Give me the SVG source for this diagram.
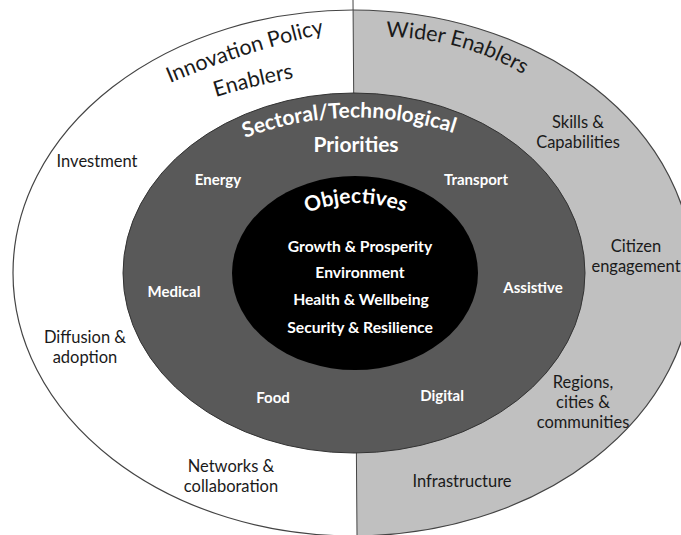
<svg xmlns="http://www.w3.org/2000/svg" xmlns:xlink="http://www.w3.org/1999/xlink" width="681" height="535" viewBox="0 0 681 535">
  <defs>
    <style>
      .lbl { font-family: Lato, "Open Sans", "Liberation Sans", sans-serif; }
      .dark { fill: #1a1a1a; font-size: 16.5px; text-anchor: middle; }
      .light { fill: #ffffff; font-size: 15px; font-weight: bold; text-anchor: middle; }
      .ring-title { fill: #1a1a1a; font-size: 21.5px; }
      .head { fill: #ffffff; font-size: 21px; font-weight: bold; }
      .obj { fill: #ffffff; font-size: 15.7px; font-weight: bold; text-anchor: middle; }
    </style>
    <!-- right half of the outer ring -->
    <clipPath id="rightHalf">
      <polygon points="353,0 681,0 681,535 357,535"/>
    </clipPath>
    <!-- baselines for the curved headings -->
    <path id="arcInnovation" d="M 170,83 Q 250,49 340,30" fill="none"/>
    <path id="arcEnablers" d="M 216,97 Q 255,85 305,76" fill="none"/>
    <path id="arcWider" d="M 386,37 Q 470,38 535,82" fill="none"/>
    <path id="arcSectoral" d="M 245,138 Q 356,97 468,138" fill="none"/>
    <path id="arcObjectives" d="M 307,213 Q 356,193 407,213" fill="none"/>
  </defs>

  <rect width="681" height="535" fill="#ffffff"/>

  <!-- outer ring: enablers -->
  <g id="outer-ring">
    <ellipse cx="353" cy="273" rx="340" ry="263" fill="#ffffff"/>
    <ellipse cx="353" cy="273" rx="340" ry="263" fill="#c0c0c0" clip-path="url(#rightHalf)"/>
    <line x1="353" y1="0" x2="357" y2="535" stroke="#444444" stroke-width="1"/>
    <ellipse cx="353" cy="273" rx="340" ry="263" fill="none" stroke="#444444" stroke-width="1.2"/>
  </g>

  <!-- middle ring: sectoral / technological priorities -->
  <g id="middle-ring">
    <ellipse cx="354" cy="273" rx="231" ry="180" fill="#595959" stroke="#333333" stroke-width="1"/>
  </g>

  <!-- core: objectives -->
  <g id="core">
    <ellipse cx="355" cy="273" rx="123" ry="97" fill="#000000"/>
  </g>

  <g id="title-innovation" class="lbl">
    <text class="ring-title"><textPath xlink:href="#arcInnovation">Innovation Policy</textPath></text>
    <text class="ring-title"><textPath xlink:href="#arcEnablers">Enablers</textPath></text>
  </g>
  <g id="title-wider" class="lbl">
    <text class="ring-title"><textPath xlink:href="#arcWider">Wider Enablers</textPath></text>
  </g>

  <g id="innovation-enablers" class="lbl">
    <text class="dark" x="97" y="167">Investment</text>
    <text class="dark" x="85" y="343">Diffusion &amp;</text>
    <text class="dark" x="85" y="363">adoption</text>
    <text class="dark" x="231" y="472">Networks &amp;</text>
    <text class="dark" x="231" y="492">collaboration</text>
  </g>

  <g id="wider-enablers" class="lbl">
    <text class="dark" x="578" y="128">Skills &amp;</text>
    <text class="dark" x="578" y="148">Capabilities</text>
    <text class="dark" x="636" y="252">Citizen</text>
    <text class="dark" x="636" y="272">engagement</text>
    <text class="dark" x="583" y="388">Regions,</text>
    <text class="dark" x="583" y="408">cities &amp;</text>
    <text class="dark" x="583" y="428">communities</text>
    <text class="dark" x="462" y="487">Infrastructure</text>
  </g>

  <g id="priorities" class="lbl">
    <text class="head"><textPath xlink:href="#arcSectoral">Sectoral/Technological</textPath></text>
    <text class="head" x="356" y="152" text-anchor="middle">Priorities</text>
    <text class="light" x="218" y="185">Energy</text>
    <text class="light" x="476" y="185">Transport</text>
    <text class="light" x="174" y="297">Medical</text>
    <text class="light" x="533" y="293">Assistive</text>
    <text class="light" x="273" y="403">Food</text>
    <text class="light" x="442" y="401">Digital</text>
  </g>

  <g id="objectives" class="lbl">
    <text class="head"><textPath xlink:href="#arcObjectives">Objectives</textPath></text>
    <text class="obj" x="360" y="252">Growth &amp; Prosperity</text>
    <text class="obj" x="360" y="278">Environment</text>
    <text class="obj" x="361" y="305">Health &amp; Wellbeing</text>
    <text class="obj" x="360" y="333">Security &amp; Resilience</text>
  </g>
</svg>
